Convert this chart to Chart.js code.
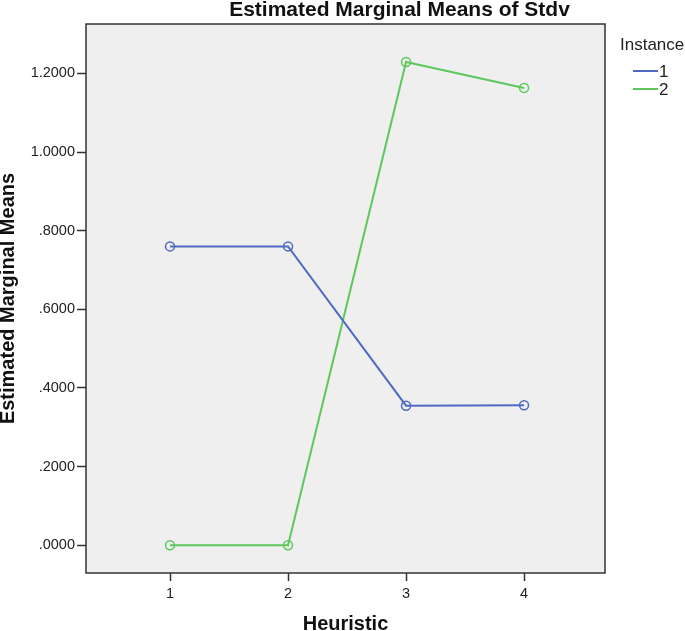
<!DOCTYPE html>
<html><head><meta charset="utf-8">
<script src="https://cdn.jsdelivr.net/npm/chart.js@4/dist/chart.umd.min.js"></script>
<style>html,body{margin:0;padding:0;background:#fff}#wrap{width:685px;height:631px}</style>
</head><body><div id="wrap"><canvas id="c" width="685" height="631"></canvas></div>
<script>
const chartTitle = 'Estimated Marginal Means of Stdv';
const xAxisTitle = 'Heuristic';
const yAxisTitle = 'Estimated Marginal Means';
const legendTitle = 'Instance';
const heuristics = [1, 2, 3, 4];
const seriesNames = ['1', '2'];
const instance1 = [0.760, 0.760, 0.355, 0.356];
const instance2 = [0.000, 0.000, 1.229, 1.163];
const yTickValues = [0, 0.2, 0.4, 0.6, 0.8, 1.0, 1.2];
const yTickLabels = ['.0000', '.2000', '.4000', '.6000', '.8000', '1.0000', '1.2000'];
const xTickValues = [1, 2, 3, 4];
const xTickLabels = ['1', '2', '3', '4'];
const seriesColors = ['#4f69c4', '#5cc85c'];

const FONT = '"Liberation Sans", Arial, sans-serif';

const toPoints = arr => heuristics.map((h, i) => ({ x: h, y: arr[i] }));

const plotFrame = {
  id: 'plotFrame',
  beforeDatasetsDraw(chart) {
    const { ctx, chartArea: a } = chart;
    ctx.save();
    ctx.fillStyle = '#efefef';
    ctx.fillRect(a.left, a.top, a.right - a.left, a.bottom - a.top);
    ctx.restore();
  },
  afterDraw(chart) {
    const { ctx, chartArea: a } = chart;
    ctx.save();
    ctx.strokeStyle = '#333333';
    ctx.lineWidth = 1.5;
    ctx.strokeRect(a.left, a.top, a.right - a.left, a.bottom - a.top);
    // title
    ctx.fillStyle = '#111';
    ctx.font = 'bold 21px ' + FONT;
    ctx.textAlign = 'center';
    ctx.textBaseline = 'alphabetic';
    ctx.fillText(chartTitle, 399.5, 15.5);
    // legend
    ctx.font = '17px ' + FONT;
    ctx.textAlign = 'left';
    ctx.textBaseline = 'middle';
    ctx.fillStyle = '#222';
    ctx.fillText(legendTitle, 620, 45);
    chart.data.datasets.forEach((ds, i) => {
      const y = 71 + i * 18;
      ctx.strokeStyle = ds.borderColor;
      ctx.lineWidth = 2;
      ctx.beginPath();
      ctx.moveTo(633, y);
      ctx.lineTo(658, y);
      ctx.stroke();
      ctx.fillStyle = '#222';
      ctx.fillText(ds.label, 659, y + 1);
    });
    ctx.restore();
  }
};

new Chart(document.getElementById('c'), {
  type: 'line',
  data: {
    datasets: [
      { label: seriesNames[0], data: toPoints(instance1), borderColor: seriesColors[0] },
      { label: seriesNames[1], data: toPoints(instance2), borderColor: seriesColors[1] }
    ].map(d => Object.assign(d, {
      borderWidth: 2,
      pointRadius: 4.5,
      pointBorderWidth: 1.5,
      pointBorderColor: d.borderColor,
      pointBackgroundColor: 'rgba(0,0,0,0)',
      tension: 0,
      fill: false,
      clip: false
    }))
  },
  options: {
    responsive: false,
    animation: false,
    devicePixelRatio: 1,
    layout: { padding: { top: 24, right: 80, left: 0, bottom: 0 } },
    plugins: { legend: { display: false }, title: { display: false }, tooltip: { enabled: false } },
    scales: {
      x: {
        type: 'linear',
        min: 0.288,
        max: 4.686,
        afterBuildTicks: s => { s.ticks = xTickValues.map(v => ({ value: v })); },
        afterFit: s => { s.height = 58; },
        ticks: {
          autoSkip: false, maxRotation: 0, padding: 4,
          font: { family: FONT, size: 14.5 }, color: '#222',
          callback: (v, i) => xTickLabels[i]
        },
        grid: { drawOnChartArea: false, drawTicks: true, tickLength: 8, tickColor: '#333', tickWidth: 1.5 },
        border: { display: false },
        title: { display: true, text: xAxisTitle, color: '#111',
          font: { family: FONT, size: 20, weight: 'bold', lineHeight: 1 }, padding: { top: 0, bottom: -3 } }
      },
      y: {
        type: 'linear',
        min: -0.0704,
        max: 1.3255,
        afterBuildTicks: s => { s.ticks = yTickValues.map(v => ({ value: v })); },
        afterFit: s => { s.width = 86; },
        ticks: {
          autoSkip: false, padding: 2,
          font: { family: FONT, size: 14.5 }, color: '#222',
          callback: (v, i) => yTickLabels[i]
        },
        grid: { drawOnChartArea: false, drawTicks: true, tickLength: 9, tickColor: '#333', tickWidth: 1.5 },
        border: { display: false },
        title: { display: true, text: yAxisTitle, color: '#111',
          font: { family: FONT, size: 20, weight: 'bold', lineHeight: 1 }, padding: { top: -2, bottom: 0 } }
      }
    }
  },
  plugins: [plotFrame]
});
</script>
</body></html>
